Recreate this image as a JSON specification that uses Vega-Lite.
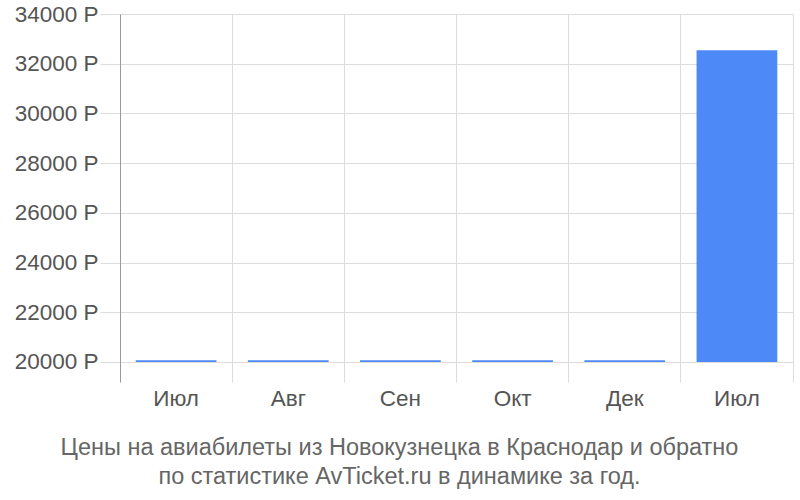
{
  "$schema": "https://vega.github.io/schema/vega-lite/v6.json",
  "width": 673,
  "height": 368,
  "autosize": "none",
  "padding": {"left": 120, "top": 14, "right": 7, "bottom": 118},
  "background": "white",
  "config": {
    "view": {"stroke": null},
    "font": "Liberation Sans"
  },
  "title": {
    "text": [
      "Цены на авиабилеты из Новокузнецка в Краснодар и обратно",
      "по статистике AvTicket.ru в динамике за год."
    ],
    "orient": "bottom",
    "anchor": "middle",
    "dx": -57,
    "offset": 26,
    "font": "Liberation Sans",
    "fontSize": 23.5,
    "fontWeight": "normal",
    "color": "#666666",
    "lineHeight": 29
  },
  "data": {
    "values": [
      {"period": "Июл 2023", "price": 20070},
      {"period": "Авг 2023", "price": 20070},
      {"period": "Сен 2023", "price": 20070},
      {"period": "Окт 2023", "price": 20070},
      {"period": "Дек 2023", "price": 20070},
      {"period": "Июл 2024", "price": 32540}
    ]
  },
  "encoding": {
    "x": {
      "field": "period",
      "type": "nominal",
      "sort": null,
      "scale": {"paddingInner": 0, "paddingOuter": 0},
      "axis": {
        "title": null,
        "labelExpr": "split(datum.value, ' ')[0]",
        "labelAngle": 0,
        "labelFontSize": 22.5,
        "labelColor": "#555555",
        "labelPadding": 5,
        "domain": false,
        "ticks": false,
        "grid": true,
        "gridColor": "#dddddd",
        "bandPosition": 0
      }
    }
  },
  "layer": [
    {
      "mark": {"type": "bar", "color": "#4e89f8", "width": {"band": 0.72}},
      "encoding": {
        "y": {
          "field": "price",
          "type": "quantitative",
          "scale": {"domain": [19195, 34000], "nice": false, "zero": false},
          "axis": {
            "title": null,
            "values": [20000, 22000, 24000, 26000, 28000, 30000, 32000, 34000],
            "labelExpr": "datum.value + ' Р'",
            "labelFontSize": 22.5,
            "labelColor": "#555555",
            "labelPadding": 2,
            "tickSize": 20,
            "tickColor": "#dddddd",
            "gridColor": "#dddddd",
            "domainColor": "#9a9a9a"
          }
        },
        "y2": {"datum": 20000}
      }
    },
    {
      "mark": {"type": "bar", "opacity": 0, "width": {"band": 0.72}},
      "encoding": {
        "y": {
          "field": "price",
          "type": "quantitative",
          "axis": {
            "orient": "right",
            "title": null,
            "labels": false,
            "ticks": false,
            "grid": false,
            "domainColor": "#dddddd"
          }
        },
        "y2": {"datum": 20000}
      }
    }
  ],
  "resolve": {"axis": {"y": "independent"}}
}
